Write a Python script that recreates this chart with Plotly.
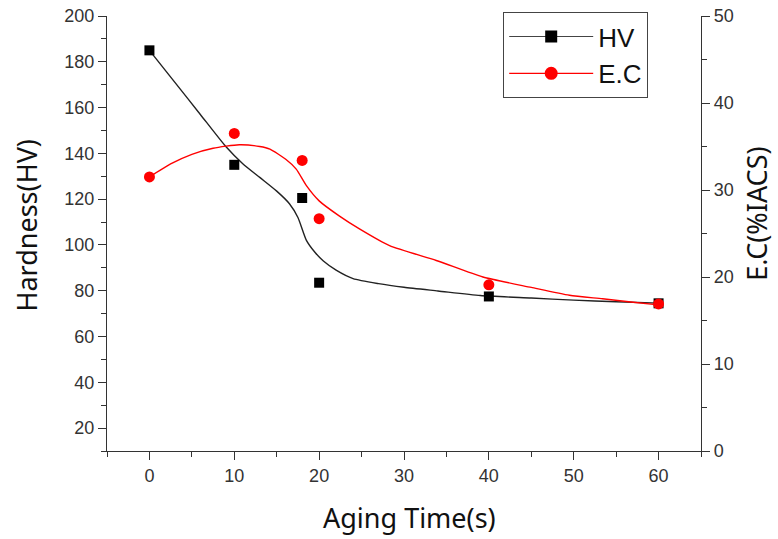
import plotly.graph_objects as go

# measured data
aging_time = [0, 10, 18, 20, 40, 60]
hardness_hv = [185, 135, 120.5, 83.5, 77.5, 74.5]
ec_iacs = [31.5, 36.5, 33.4, 26.7, 19.1, 16.9]

# fitted (smoothed) curves
hv_fit_x = [0, 3, 6, 9, 11, 13, 15, 16.5, 17.5, 18.5, 19.5, 20.5, 22, 24, 27, 30, 34, 39, 45, 50, 55, 60]
hv_fit_y = [185, 171, 157, 143, 135.5, 129.5, 123.5, 118, 112, 102, 96.8, 93, 89, 85.3, 83.1,
            81.5, 79.9, 77.9, 76.8, 75.9, 75.2, 74.6]
ec_fit_x = [0, 2.5, 5, 7.5, 10.6, 13, 14.2, 16.1, 17.3, 18.5, 20, 22.4, 24.8, 28.3, 33.8, 39.3,
            45, 49.5, 53.4, 57, 60]
ec_fit_y = [31.5, 33.0, 34.1, 34.8, 35.2, 35.0, 34.7, 33.5, 32.4, 30.5, 28.75, 27.0, 25.5, 23.6,
            21.9, 20.0, 18.8, 17.9, 17.5, 17.1, 16.8]

BLACK = "#000000"
RED = "#ff0000"
AXC = "#333333"
TICKFONT = dict(family="Arial, Liberation Sans", size=18, color="#333333")
TITLEFONT = dict(family="Noto Sans, Open Sans", size=27, color="#111111")

fig = go.Figure()

fig.add_trace(go.Scatter(x=hv_fit_x, y=hv_fit_y, mode="lines", line=dict(color="#222222", width=1.4,
                         shape="spline", smoothing=0.6), showlegend=False, hoverinfo="skip"))
fig.add_trace(go.Scatter(x=ec_fit_x, y=ec_fit_y, mode="lines", yaxis="y2",
                         line=dict(color=RED, width=1.4, shape="spline", smoothing=0.6),
                         showlegend=False, hoverinfo="skip"))

fig.add_trace(go.Scatter(x=aging_time, y=hardness_hv, mode="markers", name="HV",
                         marker=dict(symbol="square", size=10, color=BLACK), showlegend=False))
fig.add_trace(go.Scatter(x=aging_time, y=ec_iacs, mode="markers", name="E.C", yaxis="y2",
                         marker=dict(symbol="circle", size=11, color=RED), showlegend=False))

# legend entries
fig.add_trace(go.Scatter(x=[None], y=[None], mode="lines+markers", name="HV",
                         line=dict(color="#444444", width=1.2),
                         marker=dict(symbol="square", size=12, color=BLACK)))
fig.add_trace(go.Scatter(x=[None], y=[None], mode="lines+markers", name="E.C", yaxis="y2",
                         line=dict(color=RED, width=1.2),
                         marker=dict(symbol="circle", size=13, color=RED)))

fig.update_layout(
    width=778, height=539,
    margin=dict(l=107, r=77, t=16, b=88, autoexpand=False),
    paper_bgcolor="white", plot_bgcolor="white",
    showlegend=True,
    legend=dict(x=0.667, y=1.009, xanchor="left", yanchor="top",
                bordercolor="#444444", borderwidth=1, bgcolor="white",
                font=dict(family="Arial, Liberation Sans", size=26, color="#111111"),
                itemwidth=84, tracegroupgap=0),
    xaxis=dict(range=[-5, 65], tickmode="linear", tick0=0, dtick=10, automargin=False,
               showline=True, linecolor=AXC, linewidth=1.3, mirror=False,
               ticks="outside", ticklen=8, tickwidth=1.3, tickcolor=AXC,
               minor=dict(ticks="outside", ticklen=5, tickwidth=1.3, tickcolor=AXC, dtick=5, tick0=-5),
               showgrid=False, zeroline=False, tickfont=TICKFONT),
    yaxis=dict(range=[10, 200], tickmode="linear", tick0=20, dtick=20, automargin=False,
               showline=True, linecolor=AXC, linewidth=1.3,
               ticks="outside", ticklen=8, tickwidth=1.3, tickcolor=AXC,
               minor=dict(ticks="outside", ticklen=5, tickwidth=1.3, tickcolor=AXC, dtick=10, tick0=10),
               showgrid=False, zeroline=False, tickfont=TICKFONT),
    yaxis2=dict(range=[0, 50], tickmode="linear", tick0=0, dtick=10, overlaying="y", side="right",
                automargin=False,
                showline=True, linecolor=AXC, linewidth=1.3,
                ticks="outside", ticklen=8, tickwidth=1.3, tickcolor=AXC,
                minor=dict(ticks="outside", ticklen=5, tickwidth=1.3, tickcolor=AXC, dtick=5, tick0=0),
                showgrid=False, zeroline=False, tickfont=TICKFONT),
    annotations=[
        dict(text="Aging Time(s)", xref="paper", yref="paper", x=0.51, y=-0.154,
             xanchor="center", yanchor="middle", showarrow=False, font=TITLEFONT),
        dict(text="Hardness(HV)", xref="paper", yref="paper", x=-0.135, y=0.52,
             xanchor="center", yanchor="middle", showarrow=False, textangle=-90, font=TITLEFONT),
        dict(text="E.C(%IACS)", xref="paper", yref="paper", x=1.094, y=0.545,
             xanchor="center", yanchor="middle", showarrow=False, textangle=-90, font=TITLEFONT),
    ],
)

fig.write_html("out.html", config={"displayModeBar": False},
               post_script="document.body.style.margin='0';")
